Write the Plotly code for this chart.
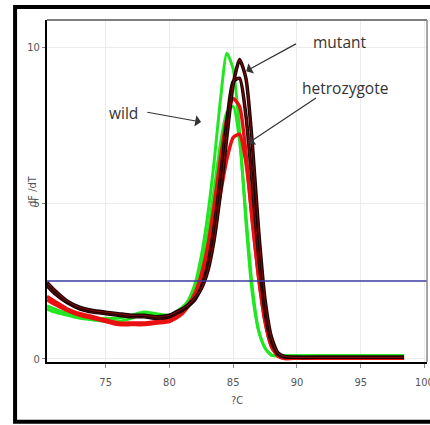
import plotly.graph_objects as go

temps = [70.4, 71, 72, 73, 74, 75, 76, 77, 78, 79, 80, 80.5, 81, 81.5, 82, 82.5, 83, 83.5,
         84, 84.5, 85, 85.5, 86, 86.5, 87, 87.5, 88, 88.5, 89, 90, 92, 94, 96, 98.4]

green_1 = [1.7, 1.6, 1.45, 1.35, 1.3, 1.3, 1.3, 1.4, 1.5, 1.45, 1.4, 1.5, 1.65, 1.9, 2.4, 3.3, 4.6, 6.3,
           8.3, 9.8, 9.3, 7.3, 4.4, 2.1, 0.9, 0.35, 0.12, 0.1, 0.1, 0.1, 0.1, 0.1, 0.1, 0.1]
green_2 = [1.6, 1.5, 1.4, 1.3, 1.25, 1.2, 1.2, 1.3, 1.45, 1.4, 1.35, 1.45, 1.6, 1.85, 2.3, 3.0, 4.0, 5.4,
           6.9, 7.9, 8.1, 7.0, 4.6, 2.3, 0.9, 0.35, 0.12, 0.1, 0.1, 0.1, 0.1, 0.1, 0.1, 0.1]
dark_1 = [2.45, 2.2, 1.85, 1.65, 1.55, 1.5, 1.45, 1.4, 1.4, 1.35, 1.4, 1.5, 1.6, 1.75, 1.95, 2.25, 2.8, 3.8,
          5.3, 7.1, 8.8, 9.6, 9.0, 6.9, 4.1, 1.9, 0.7, 0.2, 0.08, 0.05, 0.05, 0.05, 0.05, 0.05]
dark_2 = [2.35, 2.1, 1.8, 1.6, 1.5, 1.45, 1.4, 1.35, 1.35, 1.3, 1.35, 1.45, 1.55, 1.7, 1.9, 2.3, 3.0, 4.2,
          5.8, 7.6, 8.9, 9.0, 7.8, 5.6, 3.3, 1.5, 0.55, 0.15, 0.06, 0.05, 0.05, 0.05, 0.05, 0.05]
red_1 = [2.0, 1.85, 1.6, 1.45, 1.35, 1.25, 1.15, 1.15, 1.15, 1.2, 1.25, 1.35, 1.5, 1.75, 2.1, 2.7, 3.6, 4.9,
         6.4, 7.7, 8.35, 8.1, 6.6, 4.4, 2.6, 1.2, 0.4, 0.1, 0.02, 0.02, 0.02, 0.02, 0.02, 0.02]
red_2 = [1.9, 1.75, 1.55, 1.4, 1.3, 1.2, 1.1, 1.1, 1.1, 1.15, 1.2, 1.3, 1.45, 1.7, 2.0, 2.5, 3.2, 4.2,
         5.3, 6.4, 7.1, 7.2, 6.3, 4.5, 2.6, 1.2, 0.4, 0.1, 0.02, 0.02, 0.02, 0.02, 0.02, 0.02]

threshold = 2.5
x_ticks = [75, 80, 85, 90, 95, 100]
y_ticks = [0, 5, 10]

fig = go.Figure()

def add_curve(y, color, width):
    fig.add_trace(go.Scatter(x=temps, y=y, mode="lines", line=dict(color=color, width=width, shape="spline", smoothing=0.6),
                             hoverinfo="skip", showlegend=False))

add_curve(green_2, "#22e622", 3)
add_curve(green_1, "#22e622", 3)
add_curve(red_2, "#e81010", 3.5)
add_curve(red_1, "#e81010", 3.5)
for d in (dark_2, dark_1):
    add_curve(d, "#1a0000", 3.5)
    add_curve(d, "#7a0a0a", 1.2)

fig.add_hline(y=threshold, line=dict(color="#3a3aa0", width=1.5))

tick_font = dict(family="Liberation Sans Narrow, DejaVu Sans Condensed, Liberation Sans", size=11, color="#555555")
ann_font = dict(family="Open Sans, Liberation Sans", size=15.5, color="#333333")

fig.update_layout(
    width=430, height=425,
    margin=dict(l=47, r=3, t=20, b=63),
    paper_bgcolor="white", plot_bgcolor="white",
    xaxis=dict(range=[70.4, 100.2], tickvals=x_ticks, ticks="outside", ticklen=4, tickcolor="#888",
               showgrid=True, gridcolor="#ececec", gridwidth=1, zeroline=False,
               showline=True, linecolor="black", linewidth=2, tickfont=tick_font,
               ticklabeloverflow="allow", ticklabelstandoff=5, automargin=False,
               title=dict(text="?C", font=tick_font, standoff=8)),
    yaxis=dict(range=[-0.1, 10.87], tickvals=y_ticks, ticks="outside", ticklen=3, tickcolor="#888",
               showgrid=True, gridcolor="#ececec", gridwidth=1, zeroline=False, automargin=False,
               showline=True, linecolor="black", linewidth=2, tickfont=tick_font),
)

fig.add_annotation(xref="paper", yref="paper", x=-0.062, y=0.5, text="dF /dT", textangle=-90,
                   showarrow=False, font=dict(family=tick_font["family"], size=11, color="#555"))

# top and right plot frame
fig.add_shape(type="line", xref="paper", yref="paper", x0=0, x1=1, y0=1, y1=1, line=dict(color="#555", width=1.5))
fig.add_shape(type="line", xref="paper", yref="paper", x0=1, x1=1, y0=0, y1=1, line=dict(color="#888", width=1.5))
# outer frame
fig.add_shape(type="rect", xref="paper", yref="paper", x0=-0.084, x1=1.04, y0=-0.175, y1=1.038,
              line=dict(color="black", width=4))

def arrow(hx, hy, tx, ty):
    fig.add_annotation(x=hx, y=hy, ax=tx, ay=ty, xref="x", yref="y", axref="x", ayref="y", text="",
                       showarrow=True, arrowhead=1, arrowsize=1.6, arrowwidth=1.2, arrowcolor="#333")

arrow(86.02, 9.23, 90.04, 10.13)
arrow(86.18, 6.92, 91.61, 8.40)
arrow(82.48, 7.60, 78.15, 7.92)

fig.add_annotation(x=93.35, y=10.16, text="mutant", showarrow=False, font=ann_font)
fig.add_annotation(x=93.74, y=8.69, text="hetrozygote", showarrow=False, font=ann_font)
fig.add_annotation(x=76.4, y=7.88, text="wild", showarrow=False, font=ann_font)

fig.write_html("out.html", config={"displayModeBar": False},
               post_script="document.body.style.margin='0';document.body.style.overflow='hidden';")
